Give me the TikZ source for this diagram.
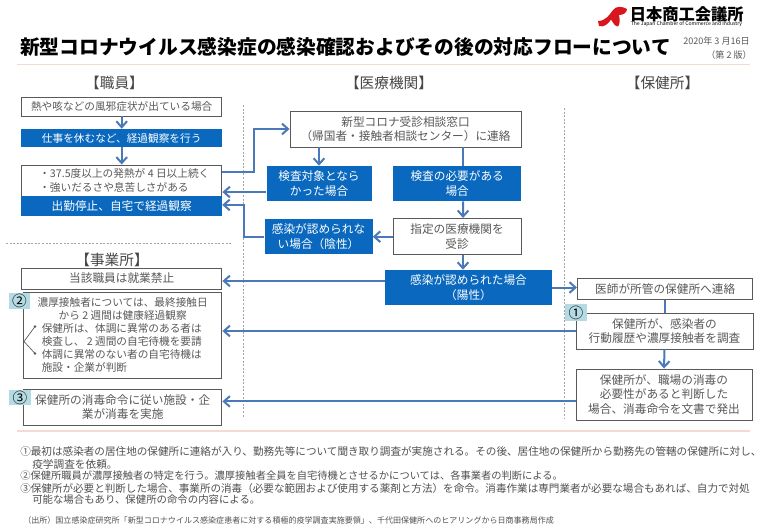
\documentclass[tikz,border=0pt]{standalone}
\usepackage{fontspec}
\usepackage{xcolor}
\usetikzlibrary{arrows.meta}
\setmainfont{Noto Sans CJK JP}
\definecolor{jblue}{HTML}{0A69BE}
\definecolor{flowblue}{HTML}{4A78B8}
\definecolor{tealtag}{HTML}{B4DAE3}
\definecolor{inkgray}{HTML}{595959}
\definecolor{rulepink}{HTML}{F6D9D2}
\definecolor{logored}{HTML}{D7161E}
\tikzset{
  graybox/.style={draw=inkgray,fill=white,line width=.7pt,text=inkgray,align=center,inner sep=0pt,font=\fontsize{8.75}{11}\selectfont},
  bluebox/.style={fill=jblue,text=white,align=center,inner sep=0pt,font=\fontsize{8.75}{11}\selectfont},
  smalltext/.style={font=\fontsize{8}{11}\selectfont},
  tagbox/.style={fill=tealtag,text=black,inner sep=0pt,font=\fontsize{11}{12}\selectfont},
  flow/.style={draw=flowblue,line width=1.5pt,-{Straight Barb[length=4.5pt,width=8pt,line width=1.5pt]}},
  flowplain/.style={draw=flowblue,line width=1.5pt},
  head/.style={text=inkgray!80!black,inner sep=0pt,font=\fontsize{11}{13}\selectfont},
  note/.style={anchor=west,inner sep=0pt,text=inkgray!90!black,font=\fontsize{#1}{9}\selectfont},
  divider/.style={draw=inkgray!55,line width=.5pt,dash pattern=on 1.5pt off 1.2pt},
}
\begin{document}
\begin{tikzpicture}[x=.75pt,y=-.75pt]
\useasboundingbox (0,0) rectangle (765,529);
\fill[white] (0,0) rectangle (765,529);
% title and logo
\fill[logored] (598,21) .. controls (606,21) and (610,14) .. (613,10) .. controls (616,6) and (622,6) .. (627,9) .. controls (627,13) and (623,15) .. (619,15) .. controls (620,20) and (620,24) .. (618,26.5) .. controls (614,26) and (613,22) .. (611,19.5) .. controls (609,23) and (604,28) .. (599,26) -- cycle;
\node[anchor=west,inner sep=0pt,font=\fontsize{12.2}{14}\bfseries\selectfont] (logoname) at (629.5,14.5) {日本商工会議所};
\node[anchor=west,inner sep=0pt,font=\fontsize{3.8}{4}\selectfont] (logosub) at (630.5,24.5) {The Japan Chamber of Commerce and Industry};
\node[anchor=west,inner sep=0pt,font=\fontsize{14.8}{17}\bfseries\selectfont] (title) at (20,47) {新型コロナウイルス感染症の感染確認およびその後の対応フローについて};
\node[anchor=east,inner sep=0pt,text=inkgray,font=\fontsize{6.8}{8}\selectfont] (date) at (750,41) {2020年 3 月16日};
\node[anchor=east,inner sep=0pt,text=inkgray,font=\fontsize{6.8}{8}\selectfont] (edition) at (752,55) {（第 2 版）};
\draw[rulepink,line width=.8pt] (17,64.5) -- (750,64.5);
\draw[rulepink,line width=.8pt] (17,431) -- (750,431);
% section heads
\node[head] (staffhead) at (114.5,83) {【職員】};
\node[head] (clinichead) at (389,83) {【医療機関】};
\node[head] (centerhead) at (662.5,83) {【保健所】};
\node[head] (officehead) at (112,260) {【事業所】};
% dividers
\draw[divider] (6,243) -- (232,243);
\draw[divider] (243,105) -- (243,418);
\draw[divider] (564,108) -- (564,418);
% staff column
\node[graybox,smalltext,minimum width=200.5*.75pt,minimum height=19*.75pt] (sick) at (121.7,106.5) {熱や咳などの風邪症状が出ている場合};
\node[bluebox,smalltext,minimum width=200.5*.75pt,minimum height=18*.75pt] (rest) at (121.7,138) {仕事を休むなど、経過観察を行う};
\node[graybox,smalltext,minimum width=200.5*.75pt,minimum height=31*.75pt,align=left] (fever) at (121.7,180.5) {\hspace*{4pt}・37.5度以上の発熱が 4 日以上続く\\\hspace*{4pt}・強いだるさや息苦しさがある};
\node[bluebox,minimum width=200.5*.75pt,minimum height=20*.75pt] (stayhome) at (121.7,206) {出勤停止、自宅で経過観察};
% clinic column
\node[graybox,minimum width=231*.75pt,minimum height=36*.75pt] (consult) at (405.5,129) {新型コロナ受診相談窓口\\（帰国者・接触者相談センター）に連絡};
\node[bluebox,minimum width=105*.75pt,minimum height=35*.75pt] (notest) at (319,183.5) {検査対象となら\\かった場合};
\node[bluebox,minimum width=127.5*.75pt,minimum height=35*.75pt] (needtest) at (457.2,183.5) {検査の必要がある\\場合};
\node[graybox,minimum width=128*.75pt,minimum height=36.5*.75pt] (hospital) at (457,236.7) {指定の医療機関を\\受診};
\node[bluebox,minimum width=108*.75pt,minimum height=34.5*.75pt] (negative) at (318.5,236.7) {感染が認められな\\い場合（陰性）};
\node[bluebox,minimum width=167*.75pt,minimum height=35*.75pt] (positive) at (468.5,287.5) {感染が認められた場合\\（陽性）};
% health centre column
\node[graybox,minimum width=175.5*.75pt,minimum height=21.5*.75pt] (doctor) at (665.2,289) {医師が所管の保健所へ連絡};
\node[graybox,minimum width=177*.75pt,minimum height=36*.75pt] (survey) at (664.5,331) {保健所が、感染者の\\行動履歴や濃厚接触者を調査};
\node[graybox,minimum width=176*.75pt,minimum height=51*.75pt] (order) at (664,394.5) {保健所が、職場の消毒の\\必要性があると判断した\\場合、消毒命令を文書で発出};
% office column
\node[graybox,minimum width=200.5*.75pt,minimum height=21*.75pt] (ban) at (121.7,278.5) {当該職員は就業禁止};
\node[graybox,minimum width=198.5*.75pt,minimum height=86*.75pt] (contact) at (122.7,335) {};
\node[inner sep=0pt,text=inkgray,align=center,font=\fontsize{8}{9.75}\selectfont] (contacttop) at (122.7,308.5) {濃厚接触者については、最終接触日\\から 2 週間は健康経過観察};
\node[anchor=west,inner sep=0pt,text=inkgray,align=left,font=\fontsize{8}{9.75}\selectfont] (contactsub) at (41.5,347.5) {保健所は、体調に異常のある者は\\検査し、 2 週間の自宅待機を要請\\体調に異常のない者の自宅待機は\\施設・企業が判断};
\coordinate (forktip) at (24,341.5);
\coordinate (forkup) at (35,326.5);
\coordinate (forkdown) at (35,353.5);
\draw[inkgray,line width=.5pt] (forkup) -- (forktip) -- (forkdown);
\fill[inkgray] (forkup) circle (1pt) (forkdown) circle (1pt);
\node[graybox,minimum width=198.5*.75pt,minimum height=36*.75pt] (third) at (122.7,407) {保健所の消毒命令に従い施設・企\\業が消毒を実施};
% badges
\node[tagbox,minimum width=21*.75pt,minimum height=16*.75pt] (tagtwo) at (19.5,301) {②};
\node[tagbox,minimum width=22*.75pt,minimum height=15.5*.75pt] (tagthree) at (20,397.7) {③};
\node[tagbox,minimum width=22*.75pt,minimum height=17*.75pt] (tagone) at (576,312.5) {①};
% connectors
\draw[flow] (sick.south) -- (rest.north);
\draw[flow] (rest.south) -- (fever.north);
\draw[flow] ([yshift=6.4pt]fever.east) -- ++(32,0) |- (consult.west);
\draw[flow] ([yshift=-6.4pt]notest.west) -- ([yshift=-6.4pt]notest.west -| fever.east);
\draw[flow] (negative.west) -- ++(-20,0) |- ([yshift=.8pt]stayhome.east);
\draw[flow] (consult.south -| notest.north) -- (notest.north);
\draw[flowplain] ([xshift=4.5pt]needtest.north |- consult.south) -- ([xshift=4.5pt]needtest.north);
\draw[flow] ([xshift=4.5pt]needtest.south) -- ([xshift=4.5pt]hospital.north);
\draw[flow] (hospital.west) -- (negative.east);
\draw[flow] ([xshift=4.5pt]hospital.south) -- ([xshift=4.5pt]hospital.south |- positive.north);
\draw[flow] ([yshift=4.9pt]positive.west) -- ([yshift=4.9pt]positive.west -| ban.east);
\draw[flow] (positive.east) -- (doctor.west |- positive.east);
\draw[flowplain] (doctor.south) -- (survey.north -| doctor.south);
\draw[flow] (survey.west) -- (survey.west -| contact.east);
\draw[flow] ([yshift=-5.2pt]order.west) -- ([yshift=-5.2pt]order.west -| third.east);
\draw[flow] (survey.south) -- (order.north);
% notes
\node[note=7.95] (noteone) at (20,451) {①最初は感染者の居住地の保健所に連絡が入り、勤務先等について聞き取り調査が実施される。その後、居住地の保健所から勤務先の管轄の保健所に対し、};
\node[note=8] (noteonemore) at (32,464) {疫学調査を依頼。};
\node[note=7.7] (notetwo) at (20,476) {②保健所職員が濃厚接触者の特定を行う。濃厚接触者全員を自宅待機とさせるかについては、各事業者の判断による。};
\node[note=7.93] (notethree) at (20,488) {③保健所が必要と判断した場合、事業所の消毒（必要な範囲および使用する薬剤と方法）を命令。消毒作業は専門業者が必要な場合もあれば、自力で対処};
\node[note=7.8] (notethreemore) at (32,500) {可能な場合もあり、保健所の命令の内容による。};
\node[note=6.03] (source) at (23,520) {（出所）国立感染症研究所「新型コロナウイルス感染症患者に対する積極的疫学調査実施要領」、千代田保健所へのヒアリングから日商事務局作成};
\end{tikzpicture}
\end{document}
